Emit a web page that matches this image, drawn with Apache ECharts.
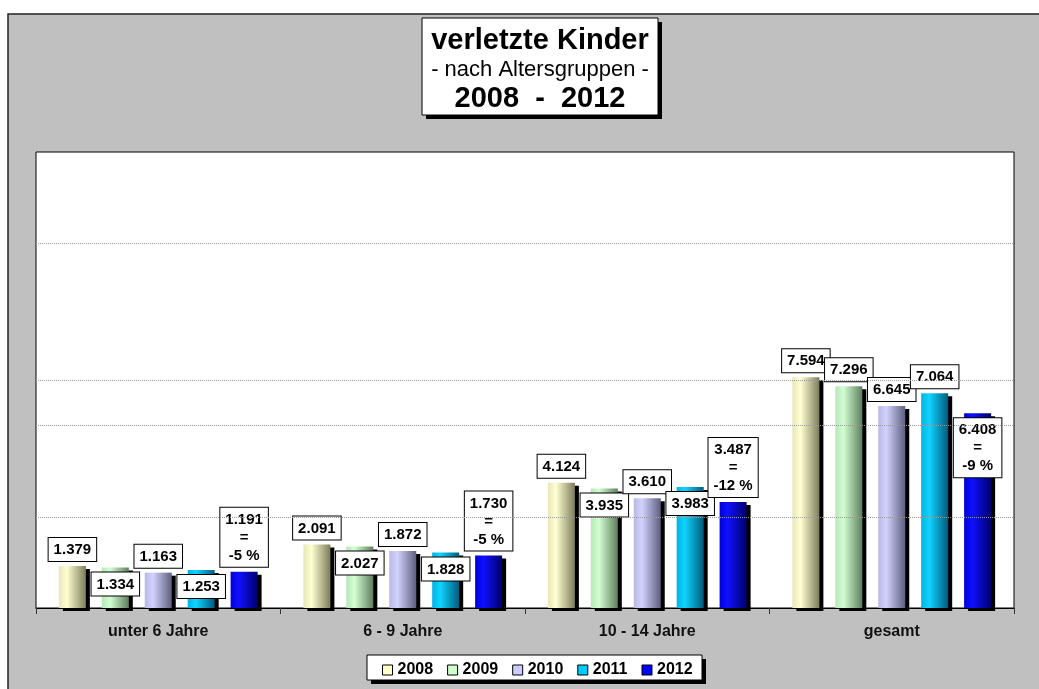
<!DOCTYPE html>
<html>
<head>
<meta charset="utf-8">
<title>verletzte Kinder nach Altersgruppen 2008 - 2012</title>
<script src="https://cdn.jsdelivr.net/npm/echarts@6/dist/echarts.min.js"></script>
<style>
  html, body { margin: 0; padding: 0; background: #fff; }
  #main { width: 1039px; height: 689px; }
</style>
</head>
<body>
<div id="main"></div>
<script>
// Altersgruppen und Jahre
var categories = ['unter 6 Jahre', '6 - 9 Jahre', '10 - 14 Jahre', 'gesamt'];
var years = ['2008', '2009', '2010', '2011', '2012'];

// verletzte Kinder je Jahr
var v2008 = [1379, 2091, 4124, 7594];
var v2009 = [1334, 2027, 3935, 7296];
var v2010 = [1163, 1872, 3610, 6645];
var v2011 = [1253, 1828, 3983, 7064];
var v2012 = [1191, 1730, 3487, 6408];

// Hilfslinien (wie im Original unregelmäßig)
var gridValues = [3000, 6000, 7500, 12000];

var values = [v2008, v2009, v2010, v2011, v2012];

// Farben: links, hell, rechts dunkel
var colors = [
  ['#e6e6b8', '#ffffd2', '#7c7c5a'],
  ['#b8e6b8', '#d2ffd2', '#5e7e5e'],
  ['#b8b8e6', '#d2d2ff', '#5e5e80'],
  ['#00b4e6', '#10d4ff', '#005a7c'],
  ['#0000d8', '#1010ff', '#00006a']
];
var legendColors = ['#ffffcc', '#ccffcc', '#ccccff', '#00ccff', '#0000ff'];

// Labels, die im Balken stehen (Jahr -> Index der Kategorie)
var insideLabels = { '2009': [0, 1, 2], '2011': [0, 1, 2], '2012': [3] };

var font = "'Liberation Sans', Arial, sans-serif";

function fmt(v) {
  return (v / 1000).toFixed(3);
}

// Kasten mit schwarzem Schatten (Titel, Legende)
function shadowBox(x, y, w, h) {
  return [{
    type: 'rect', z: 1,
    shape: { x: x + 4, y: y + 4, width: w, height: h },
    style: { fill: '#000' }
  }, {
    type: 'rect', z: 2,
    shape: { x: x, y: y, width: w, height: h },
    style: { fill: '#fff', stroke: '#000', lineWidth: 1 }
  }];
}

var myChart = echarts.init(document.getElementById('main'));

var series = years.map(function (y, si) {
  var c = colors[si];
  return {
    name: y,
    type: 'bar',
    z: 3,
    barWidth: 27,
    barGap: '59%',
    itemStyle: {
      color: new echarts.graphic.LinearGradient(0, 0, 1, 0, [
        { offset: 0, color: c[0] },
        { offset: 0.3, color: c[1] },
        { offset: 1, color: c[2] }
      ]),
      shadowColor: '#000',
      shadowBlur: 0,
      shadowOffsetX: 4,
      shadowOffsetY: 3
    },
    label: {
      show: true,
      fontFamily: font,
      fontWeight: 'bold',
      fontSize: 15,
      lineHeight: 18,
      color: '#000',
      backgroundColor: '#fff',
      borderColor: '#000',
      borderWidth: 1,
      padding: [3, 5, 2, 5],
      formatter: function (p) {
        if (si === 4) {
          var pct = Math.round((p.value / v2011[p.dataIndex] - 1) * 100);
          return fmt(p.value) + '\n=\n' + pct + ' %';
        }
        return fmt(p.value);
      }
    },
    data: values[si].map(function (v, ci) {
      var inside = (insideLabels[y] || []).indexOf(ci) >= 0;
      return {
        value: v,
        label: { position: inside ? 'insideTop' : 'top', distance: 5 }
      };
    })
  };
});

// Hilfslinien hinter den Balken
series.push({
  name: 'raster',
  type: 'line',
  z: 1,
  data: [],
  markLine: {
    silent: true,
    symbol: 'none',
    label: { show: false },
    lineStyle: { type: 'dotted', color: '#9a9a9a', width: 1 },
    data: gridValues.map(function (g) { return { yAxis: g }; })
  }
});

myChart.setOption({
  animation: false,
  backgroundColor: '#fff',
  graphic: [{
    type: 'rect',
    z: -10,
    shape: { x: 8, y: 14, width: 1100, height: 700 },
    style: { fill: '#c0c0c0', stroke: '#222', lineWidth: 1.5 }
  }].concat(shadowBox(422, 18, 236, 97), shadowBox(367, 655, 335, 25)),
  title: {
    left: 422,
    top: 18,
    padding: [8, 5, 2, 5],
    text: '{a|verletzte Kinder}\n{b|- nach Altersgruppen -}\n{a|2008  -  2012}',
    textStyle: {
      rich: {
        a: { fontFamily: font, fontWeight: 'bold', fontSize: 29, lineHeight: 29, color: '#000', width: 226, align: 'center' },
        b: { fontFamily: font, fontWeight: 'normal', fontSize: 22, lineHeight: 29, color: '#000', width: 226, align: 'center' }
      }
    }
  },
  legend: {
    left: 367,
    top: 655,
    padding: [7, 12, 4, 15],
    itemGap: 14,
    itemWidth: 10,
    itemHeight: 10,
    textStyle: { fontFamily: font, fontWeight: 'bold', fontSize: 16, color: '#000' },
    data: years.map(function (y, i) {
      return {
        name: y,
        icon: 'rect',
        itemStyle: { color: legendColors[i], borderColor: '#000', borderWidth: 1, shadowBlur: 0, shadowOffsetX: 0, shadowOffsetY: 0 }
      };
    })
  },
  grid: {
    left: 36,
    right: 25,
    top: 152,
    bottom: 81,
    show: true,
    backgroundColor: '#fff',
    borderColor: '#000',
    borderWidth: 1
  },
  xAxis: {
    type: 'category',
    data: categories,
    axisLine: { lineStyle: { color: '#000', width: 1 } },
    axisTick: { show: true, length: 6, lineStyle: { color: '#333' } },
    axisLabel: {
      margin: 16,
      fontFamily: font,
      fontWeight: 'bold',
      fontSize: 16,
      color: '#111'
    }
  },
  yAxis: {
    type: 'value',
    min: 0,
    max: 15000,
    interval: 1500,
    axisLine: { show: false },
    axisTick: { show: false },
    axisLabel: { show: false },
    splitLine: { show: false }
  },
  series: series
});
</script>
</body>
</html>
